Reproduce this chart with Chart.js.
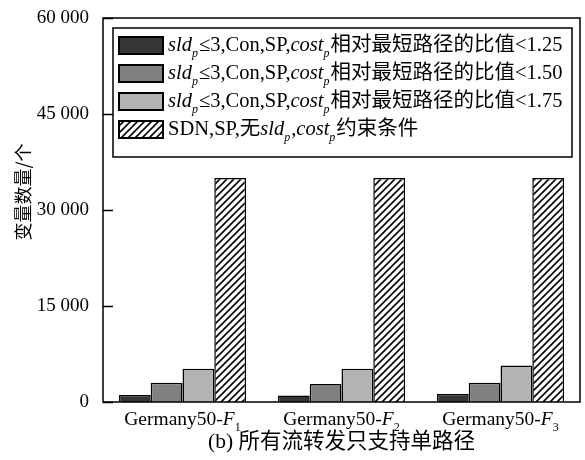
<!DOCTYPE html>
<html>
<head>
<meta charset="utf-8">
<script src="https://cdn.jsdelivr.net/npm/chart.js@4"></script>
<style>
  html, body { margin: 0; padding: 0; background: #fff; }
  canvas { display: block; }
</style>
</head>
<body>
<canvas id="bar-chart" width="585" height="460"></canvas>
<script>
// markup: *italic*  _subscript_
const categories = ['Germany50-*F*_1_', 'Germany50-*F*_2_', 'Germany50-*F*_3_'];
const seriesNames = [
  '*sld*_p_≤3,Con,SP,*cost*_p_相对最短路径的比值<1.25',
  '*sld*_p_≤3,Con,SP,*cost*_p_相对最短路径的比值<1.50',
  '*sld*_p_≤3,Con,SP,*cost*_p_相对最短路径的比值<1.75',
  'SDN,SP,无*sld*_p_,*cost*_p_约束条件'
];
const ratio125 = [1100, 1000, 1250];
const ratio150 = [3000, 2800, 3000];
const ratio175 = [5200, 5200, 5700];
const sdnNoLimit = [35000, 35000, 35000];
const yTicks = [0, 15000, 30000, 45000, 60000];
const yTitle = '变量数量/个';
const xTitle = '(b) 所有流转发只支持单路径';

const SERIF = "'Liberation Serif', 'Noto Sans CJK SC', serif";

function hatch() {
  const c = document.createElement('canvas');
  c.width = 7; c.height = 7;
  const g = c.getContext('2d');
  g.fillStyle = '#fff';
  g.fillRect(0, 0, 7, 7);
  g.strokeStyle = '#000';
  g.lineWidth = 1.6;
  g.beginPath();
  g.moveTo(-1, 8); g.lineTo(8, -1);
  g.moveTo(-2, 2); g.lineTo(2, -2);
  g.moveTo(5, 9); g.lineTo(9, 5);
  g.stroke();
  return g.createPattern(c, 'repeat');
}
const hatchFill = hatch();

const fills = ['#363636', '#808080', '#b3b3b3', hatchFill];
const values = [ratio125, ratio150, ratio175, sdnNoLimit];

function parseRich(s) {
  return s.split(/(\*[^*]+\*|_[^_]+_)/).filter(t => t).map(t => {
    if (t[0] === '*') return { text: t.slice(1, -1), style: 'i' };
    if (t[0] === '_') return { text: t.slice(1, -1), style: 'sub' };
    return { text: t, style: 'n' };
  });
}

function richFont(seg, size) {
  if (seg.style === 'i') return 'italic ' + size + 'px ' + SERIF;
  if (seg.style === 'sub') {
    const it = /[a-z]/i.test(seg.text) ? 'italic ' : '';
    return it + Math.round(size * 0.6) + 'px ' + SERIF;
  }
  return size + 'px ' + SERIF;
}

function richWidth(ctx, segs, size) {
  let w = 0;
  segs.forEach(s => { ctx.font = richFont(s, size); w += ctx.measureText(s.text).width; });
  return w;
}

function drawRich(ctx, str, x, y, size, align) {
  const segs = parseRich(str);
  let cx = x;
  if (align === 'center') cx = x - richWidth(ctx, segs, size) / 2;
  ctx.textBaseline = 'alphabetic';
  ctx.textAlign = 'left';
  segs.forEach(s => {
    ctx.font = richFont(s, size);
    const dy = s.style === 'sub' ? size * 0.3 : 0;
    ctx.fillText(s.text, cx, y + dy);
    cx += ctx.measureText(s.text).width + (s.style === 'sub' ? 1 : 0);
  });
}

const framePlugin = {
  id: 'frame',
  afterDatasetsDraw(chart) {
    const ctx = chart.ctx;
    const a = chart.chartArea;
    const x = chart.scales.x, y = chart.scales.y;
    ctx.save();
    ctx.fillStyle = '#000';
    ctx.strokeStyle = '#000';

    // plot box
    ctx.lineWidth = 1.5;
    ctx.strokeRect(a.left, a.top, a.right - a.left, a.bottom - a.top);

    // inward ticks on the left axis
    ctx.beginPath();
    y.ticks.forEach(t => {
      const py = Math.round(y.getPixelForValue(t.value)) + 0.5;
      ctx.moveTo(a.left, py); ctx.lineTo(a.left + 10, py);
    });
    ctx.stroke();

    // category labels
    categories.forEach((c, i) => {
      drawRich(ctx, c, x.getPixelForValue(i), 425, 19.5, 'center');
    });

    // y title
    ctx.save();
    ctx.translate(23, 192);
    ctx.rotate(-Math.PI / 2);
    ctx.font = "18px 'Noto Sans CJK SC', sans-serif";
    ctx.textAlign = 'center';
    ctx.textBaseline = 'middle';
    ctx.fillText(yTitle, 0, 0);
    ctx.restore();

    // legend
    const lx = a.left + 10, ly = a.top + 10, lw = 459, lh = 129;
    ctx.fillStyle = '#fff';
    ctx.fillRect(lx, ly, lw, lh);
    ctx.lineWidth = 1.5;
    ctx.strokeRect(lx, ly, lw, lh);
    seriesNames.forEach((name, i) => {
      const cy = ly + 17 + i * 28;
      ctx.fillStyle = fills[i];
      ctx.fillRect(lx + 6, cy - 8, 44, 17);
      ctx.lineWidth = 2;
      ctx.strokeStyle = '#000';
      ctx.strokeRect(lx + 6, cy - 8, 44, 17);
      ctx.fillStyle = '#000';
      drawRich(ctx, name, lx + 55, cy + 6, 20.5, 'left');
    });
    ctx.restore();
  }
};

const fmt = v => String(v).replace(/\B(?=(\d{3})+(?!\d))/g, ' ');

new Chart(document.getElementById('bar-chart'), {
  type: 'bar',
  data: {
    labels: categories,
    datasets: values.map((v, i) => ({
      label: seriesNames[i],
      data: v,
      backgroundColor: fills[i],
      borderColor: '#000',
      borderWidth: 1.5,
      categoryPercentage: 0.8,
      barPercentage: 1.0
    }))
  },
  options: {
    responsive: false,
    animation: false,
    layout: { padding: { top: 18, right: 5, left: 0, bottom: 0 } },
    plugins: { legend: { display: false }, tooltip: { enabled: false } },
    scales: {
      x: {
        grid: { display: false },
        border: { display: false },
        ticks: { display: false },
        afterFit(s) { s.height = 58; },
        title: {
          display: true,
          text: xTitle,
          color: '#000',
          font: { family: SERIF, size: 21.5 },
          padding: { top: 0, bottom: 5 }
        }
      },
      y: {
        min: 0,
        max: 60000,
        afterBuildTicks(s) { s.ticks = yTicks.map(v => ({ value: v })); },
        grid: { display: false },
        border: { display: false },
        ticks: {
          color: '#000',
          padding: 6,
          font: { family: SERIF, size: 19 },
          callback: v => fmt(v)
        },
        afterFit(s) { s.width = 103; }
      }
    }
  },
  plugins: [framePlugin]
});
</script>
</body>
</html>
